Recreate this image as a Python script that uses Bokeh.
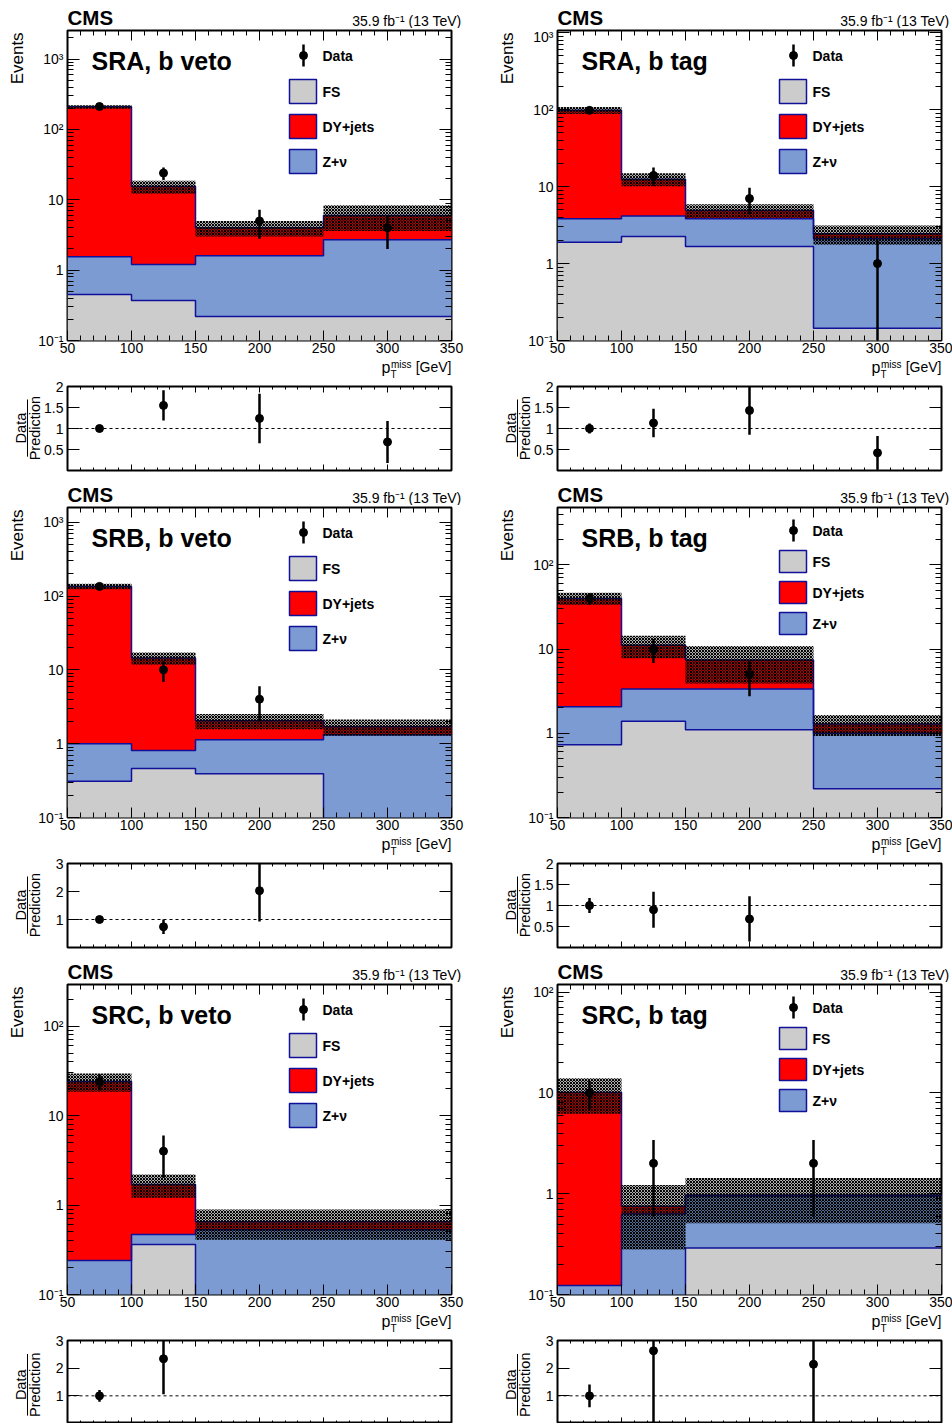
import numpy as np
from bokeh.plotting import figure
from bokeh.models import (Range1d, FixedTicker, LogAxis, LinearAxis, Label, Span,
                          CustomJSTickFormatter)
from bokeh.layouts import column, row
from bokeh.embed import file_html
from bokeh.resources import INLINE

# ---------------- data ----------------
edges_sra = [50, 100, 150, 250, 350]
edges_srb = [50, 100, 150, 250, 350]
edges_src = [50, 100, 150, 350]

# SRA, b veto
fs_sra_bveto = [0.45, 0.37, 0.22, 0.22]
znu_sra_bveto = [1.10, 0.83, 1.38, 2.48]
dy_sra_bveto = [208.0, 14.2, 2.4, 3.3]
unc_sra_bveto = [12.0, 3.2, 1.0, 2.4]
obs_sra_bveto = [212, 24, 5, 4]
obserr_sra_bveto = [14.6, 4.9, 2.2, 2.0]
ratio_sra_bveto = [1.0, 1.55, 1.24, 0.68]
ratioerr_sra_bveto = [0.07, 0.36, 0.59, 0.50]

# SRA, b tag
fs_sra_btag = [1.89, 2.24, 1.67, 0.144]
znu_sra_btag = [1.94, 1.91, 2.16, 1.95]
dy_sra_btag = [94.2, 8.35, 1.07, 0.34]
unc_sra_btag = [10.0, 2.4, 1.0, 0.68]
obs_sra_btag = [98, 14, 7, 1]
obserr_sra_btag = [9.9, 3.74, 2.65, 1.0]
ratio_sra_btag = [1.0, 1.13, 1.43, 0.42]
ratioerr_sra_btag = [0.12, 0.34, 0.58, 0.40]

# SRB, b veto
fs_srb_bveto = [0.31, 0.46, 0.39, 0.0]
znu_srb_bveto = [0.69, 0.35, 0.74, 1.32]
dy_srb_bveto = [134.0, 13.6, 0.92, 0.38]
unc_srb_bveto = [12.0, 2.7, 0.48, 0.42]
obs_srb_bveto = [135, 10, 4, 0]
obserr_srb_bveto = [11.6, 3.16, 2.0, 0.0]
ratio_srb_bveto = [1.0, 0.74, 2.03, 0.0]
ratioerr_srb_bveto = [0.09, 0.26, 1.1, 0.0]

# SRB, b tag
fs_srb_btag = [0.73, 1.39, 1.1, 0.22]
znu_srb_btag = [1.34, 1.96, 2.25, 0.78]
dy_srb_btag = [37.9, 7.75, 4.05, 0.29]
unc_srb_btag = [6.7, 3.3, 3.5, 0.36]
obs_srb_btag = [40, 10, 5, 0]
obserr_srb_btag = [6.3, 3.16, 2.24, 0.0]
ratio_srb_btag = [1.0, 0.9, 0.68, 0.0]
ratioerr_srb_btag = [0.18, 0.43, 0.54, 0.0]

# SRC, b veto
fs_src_bveto = [0.0, 0.363, 0.0]
znu_src_bveto = [0.24, 0.107, 0.53]
dy_src_bveto = [23.8, 1.23, 0.12]
unc_src_bveto = [5.6, 0.49, 0.24]
obs_src_bveto = [24, 4, 0]
obserr_src_bveto = [4.9, 2.0, 0.0]
ratio_src_bveto = [1.0, 2.34, 0.0]
ratioerr_src_bveto = [0.21, 1.28, 0.0]

# SRC, b tag
fs_src_btag = [0.0, 0.0, 0.29]
znu_src_btag = [0.123, 0.63, 0.66]
dy_src_btag = [9.98, 0.12, 0.02]
unc_src_btag = [3.9, 0.47, 0.46]
obs_src_btag = [10, 2, 2]
obserr_src_btag = [3.16, 1.41, 1.41]
ratio_src_btag = [1.0, 2.63, 2.14]
ratioerr_src_btag = [0.41, 2.7, 2.2]

titles = ["SRA, b veto", "SRA, b tag", "SRB, b veto", "SRB, b tag", "SRC, b veto", "SRC, b tag"]
y_max = [2550, 1070, 1580, 480, 292, 119]
ratio_max = [2, 2, 3, 2, 3, 3]
legend_labels = ["FS", "DY+jets", "Z+ν"]
x_major = [50, 100, 150, 200, 250, 300, 350]
x_minor = list(range(60, 350, 10))
log_major = [0.1, 1, 10, 100, 1000]
log_labels = {0.1: "10⁻¹", 1: "1", 10: "10", 100: "10²", 1000: "10³"}
lumi_text = "35.9 fb⁻¹ (13 TeV)"

panels = [
    dict(edges=edges_sra, fs=fs_sra_bveto, znu=znu_sra_bveto, dy=dy_sra_bveto, unc=unc_sra_bveto,
         obs=obs_sra_bveto, err=obserr_sra_bveto, ratio=ratio_sra_bveto, rerr=ratioerr_sra_bveto, compact=False),
    dict(edges=edges_sra, fs=fs_sra_btag, znu=znu_sra_btag, dy=dy_sra_btag, unc=unc_sra_btag,
         obs=obs_sra_btag, err=obserr_sra_btag, ratio=ratio_sra_btag, rerr=ratioerr_sra_btag, compact=False),
    dict(edges=edges_srb, fs=fs_srb_bveto, znu=znu_srb_bveto, dy=dy_srb_bveto, unc=unc_srb_bveto,
         obs=obs_srb_bveto, err=obserr_srb_bveto, ratio=ratio_srb_bveto, rerr=ratioerr_srb_bveto, compact=False),
    dict(edges=edges_srb, fs=fs_srb_btag, znu=znu_srb_btag, dy=dy_srb_btag, unc=unc_srb_btag,
         obs=obs_srb_btag, err=obserr_srb_btag, ratio=ratio_srb_btag, rerr=ratioerr_srb_btag, compact=True),
    dict(edges=edges_src, fs=fs_src_bveto, znu=znu_src_bveto, dy=dy_src_bveto, unc=unc_src_bveto,
         obs=obs_src_bveto, err=obserr_src_bveto, ratio=ratio_src_bveto, rerr=ratioerr_src_bveto, compact=False),
    dict(edges=edges_src, fs=fs_src_btag, znu=znu_src_btag, dy=dy_src_btag, unc=unc_src_btag,
         obs=obs_src_btag, err=obserr_src_btag, ratio=ratio_src_btag, rerr=ratioerr_src_btag, compact=True),
]

# ---------------- style ----------------
FONT = "Liberation Sans"
FS_COL = "#cccccc"
DY_COL = "#ff0000"
ZNU_COL = "#7b9bd2"
LINE_COL = "#10109a"
CELL_W = 476
FW, FH, RH = 384, 310, 84
FLOOR = 1e-3
TOP_H, MAIN_TOP, MAIN_BOT, XT_H = 28, 2, 18, 22
R_TOP, R_BOT = 6, 7


def px2x(px):
    return 50 + px * 300.0 / FW


def logy(ymin, ymax, H):
    lo, hi = np.log10(ymin), np.log10(ymax)
    return lambda py: float(10 ** (hi - py / H * (hi - lo)))


def style_axis(ax, ticker, major, minor, labels=True, overrides=None, standoff=4):
    ax.ticker = ticker
    ax.axis_line_color = None
    ax.major_tick_in = major
    ax.major_tick_out = 0
    ax.minor_tick_in = minor
    ax.minor_tick_out = 0
    ax.major_tick_line_color = "black"
    ax.minor_tick_line_color = "black"
    ax.major_label_text_font = FONT
    ax.major_label_text_color = "black"
    if labels:
        ax.major_label_text_font_size = "14px"
        ax.major_label_standoff = standoff
        if overrides:
            ax.major_label_overrides = overrides
    else:
        ax.formatter = CustomJSTickFormatter(code="return ''")
        ax.major_label_text_font_size = "2px"
        ax.major_label_standoff = 0


def lab(p, x, y, text, size, bold=False, align="left", baseline="middle", angle=0.0):
    p.add_layout(Label(x=float(x), y=float(y), text=text, text_font=FONT, text_font_size=size,
                       text_font_style="bold" if bold else "normal", text_align=align,
                       text_baseline=baseline, angle=angle, text_color="black"))


def strip(w, h):
    s = figure(width=w, height=h, min_border=0, x_range=Range1d(0, w), y_range=Range1d(h, 0),
               x_axis_location=None, y_axis_location=None, toolbar_location=None,
               output_backend="svg", outline_line_color=None)
    s.grid.visible = False
    return s


def step_xy(edges, vals):
    return list(edges), list(vals) + [vals[-1]]


def main_fig(i, col):
    pn = panels[i]
    R = 25 if col == 0 else 11
    ymax = y_max[i]
    p = figure(frame_width=FW, frame_height=FH, min_border_left=36, min_border_right=R,
               min_border_top=MAIN_TOP, min_border_bottom=MAIN_BOT, x_range=Range1d(50, 350),
               y_range=Range1d(0.1, ymax), y_axis_type="log", output_backend="svg",
               toolbar_location=None, outline_line_color="black", outline_line_width=2)
    p.grid.visible = False
    log_minor = [k * 10.0 ** e for e in range(-1, 4) for k in range(2, 10)]
    style_axis(p.xaxis[0], FixedTicker(ticks=x_major, minor_ticks=x_minor), 10, 5, True, None, 2)
    style_axis(p.yaxis[0], FixedTicker(ticks=log_major, minor_ticks=log_minor), 12, 6, True, log_labels, 4)
    top = LinearAxis()
    style_axis(top, FixedTicker(ticks=x_major, minor_ticks=x_minor), 10, 5, labels=False)
    p.add_layout(top, "above")
    right = LogAxis()
    style_axis(right, FixedTicker(ticks=log_major, minor_ticks=log_minor), 12, 6, labels=False)
    p.add_layout(right, "right")

    edges = np.array(pn["edges"], float)
    left, rightE = edges[:-1], edges[1:]
    fs, zn, dy = np.array(pn["fs"]), np.array(pn["znu"]), np.array(pn["dy"])
    c1 = fs
    c2 = fs + zn
    c3 = c2 + dy
    t1, t2, t3 = np.maximum(c1, FLOOR), np.maximum(c2, FLOOR), np.maximum(c3, FLOOR)
    b0 = np.full_like(t1, FLOOR)
    for lo_, hi_, colr in ((b0, t1, FS_COL), (t1, t2, ZNU_COL), (t2, t3, DY_COL)):
        xs_, y1 = step_xy(edges, lo_)
        _, y2 = step_xy(edges, hi_)
        p.varea_step(x=xs_, y1=y1, y2=y2, step_mode="after", fill_color=colr)
    xs = np.repeat(edges, 2)[1:-1]
    for t in (t1, t2, t3):
        p.line(xs, np.repeat(t, 2), line_color=LINE_COL, line_width=1.5)
    unc = np.array(pn["unc"])
    p.quad(left=left, right=rightE, bottom=np.maximum(c3 - unc, FLOOR), top=c3 + unc,
           fill_color=None, line_color=None, hatch_pattern="x", hatch_color="black",
           hatch_scale=3, hatch_weight=1.2, hatch_alpha=1.0)

    ctr = (left + rightE) / 2
    obs, err = np.array(pn["obs"], float), np.array(pn["err"], float)
    m = obs > 0
    p.segment(x0=ctr[m], y0=np.maximum(obs[m] - err[m], FLOOR), x1=ctr[m], y1=obs[m] + err[m],
              line_color="black", line_width=2.5)
    p.scatter(ctr[m], obs[m], size=8, color="black")

    yd = logy(0.1, ymax, FH)
    if pn["compact"]:
        dc, bt0, bh, step = 23, 43, 22, 31
    else:
        dc, bt0, bh, step = 25, 49, 24, 35
    p.segment(x0=[px2x(236)], y0=[yd(dc + 11)], x1=[px2x(236)], y1=[yd(dc - 11)],
              line_color="black", line_width=2.5)
    p.scatter([px2x(236)], [yd(dc)], size=8, color="black")
    lab(p, px2x(255), yd(dc), "Data", "14px", bold=True)
    for k, (name, colr) in enumerate(zip(legend_labels, [FS_COL, DY_COL, ZNU_COL])):
        tp = bt0 + k * step
        bt = tp + bh
        p.quad(left=[px2x(222)], right=[px2x(249)], top=[yd(tp)], bottom=[yd(bt)],
               fill_color=colr, line_color=LINE_COL, line_width=1.5)
        lab(p, px2x(255), yd((tp + bt) / 2), name, "14px", bold=True)
    lab(p, px2x(24), yd(30), titles[i], "25px", bold=True)
    return p


def ratio_fig(i, col, last):
    pn = panels[i]
    R = 25 if col == 0 else 11
    rmax = ratio_max[i]
    fh = 83 if last else RH
    p = figure(frame_width=FW, frame_height=fh, min_border_left=26, min_border_right=R,
               min_border_top=R_TOP, min_border_bottom=0 if last else R_BOT, x_range=Range1d(50, 350),
               y_range=Range1d(0, rmax), output_backend="svg", toolbar_location=None,
               outline_line_color="black", outline_line_width=2)
    p.grid.visible = False
    if rmax == 2:
        yt_major = [0.5, 1, 1.5, 2]
        ylabels = {0.5: "0.5", 1: "1", 1.5: "1.5", 2: "2"}
    else:
        yt_major = [1, 2, 3]
        ylabels = {1: "1", 2: "2", 3: "3"}
    style_axis(p.xaxis[0], FixedTicker(ticks=x_major, minor_ticks=x_minor), 6, 3, labels=False)
    style_axis(p.yaxis[0], FixedTicker(ticks=yt_major, minor_ticks=[]), 12, 6, True, ylabels, 4)
    top = LinearAxis()
    style_axis(top, FixedTicker(ticks=x_major, minor_ticks=x_minor), 6, 3, labels=False)
    p.add_layout(top, "above")
    right = LinearAxis()
    style_axis(right, FixedTicker(ticks=yt_major, minor_ticks=[]), 12, 6, labels=False)
    p.add_layout(right, "right")

    p.add_layout(Span(location=1, dimension="width", line_color="black", line_dash="3 3", line_width=1))
    edges = np.array(pn["edges"], float)
    ctr = (edges[:-1] + edges[1:]) / 2
    obs = np.array(pn["obs"], float)
    r, re = np.array(pn["ratio"], float), np.array(pn["rerr"], float)
    m = obs > 0
    p.segment(x0=ctr[m], y0=r[m] - re[m], x1=ctr[m], y1=r[m] + re[m], line_color="black", line_width=2.5)
    p.scatter(ctr[m], r[m], size=8, color="black")
    return p, fh


def cell(i, col, last):
    Lw = 31 if col == 0 else 45          # left strip width (main)
    Lr = 41 if col == 0 else 55          # left strip width (ratio)
    frame_left = Lw + 36
    frame_right = frame_left + FW
    # header strip: CMS + lumi
    top = strip(CELL_W, TOP_H)
    lab(top, frame_left, 17, "CMS", "20.5px", bold=True)
    lab(top, frame_right + (10 if col == 0 else 8), 20, lumi_text, "14px", align="right")
    # main
    mp = main_fig(i, col)
    main_h = MAIN_TOP + FH + MAIN_BOT
    ls = strip(Lw, main_h)
    lab(ls, frame_left - 50, MAIN_TOP, "Events", "17px", align="right", angle=float(np.pi / 2))
    # x title strip
    xs = strip(CELL_W, XT_H)
    lab(xs, frame_right, 8, "[GeV]", "14px", align="right")
    lab(xs, frame_right - 70, 9, "p", "16px")
    lab(xs, frame_right - 60.5, 5.6, "miss", "10px")
    lab(xs, frame_right - 61, 16.3, "T", "10px")
    # ratio
    rp, fh = ratio_fig(i, col, last)
    rh = R_TOP + fh + (0 if last else R_BOT)
    rframe_left = Lr + 26
    lr = strip(Lr, rh)
    cy = R_TOP + fh / 2
    lab(lr, rframe_left - 47, cy, "Data", "14.5px", align="center", angle=float(np.pi / 2))
    lab(lr, rframe_left - 33, cy, "Prediction", "14.5px", align="center", angle=float(np.pi / 2))
    lr.line([rframe_left - 40, rframe_left - 40], [cy - 33, cy + 33], line_color="black", line_width=1)
    return column(top, row(ls, mp), xs, row(lr, rp))


rows = []
for rr in range(3):
    rows.append(row(cell(2 * rr, 0, rr == 2), cell(2 * rr + 1, 1, rr == 2)))
layout = column(*rows)

open("out.html", "w").write(file_html(layout, INLINE, title="CMS pTmiss"))
